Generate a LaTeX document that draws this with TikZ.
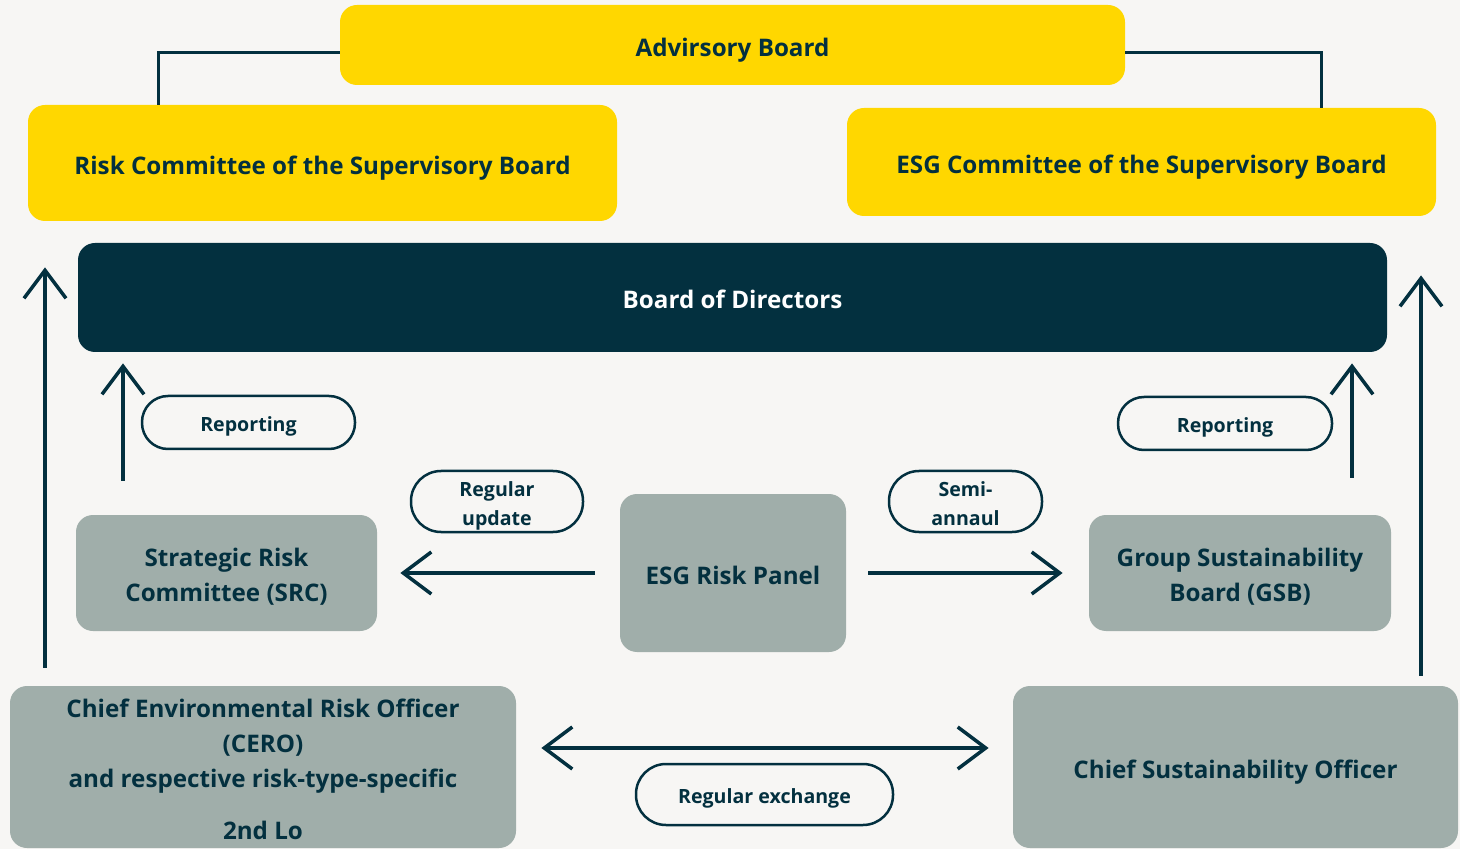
\documentclass[tikz,border=0pt]{standalone}
\usepackage{fontspec}
\setmainfont{Open Sans}
\usetikzlibrary{arrows.meta}
\definecolor{paper}{HTML}{F7F6F4}
\definecolor{gold}{HTML}{FFD700}
\definecolor{navy}{HTML}{03303F}
\definecolor{sage}{HTML}{A0AEAA}
% Centred text block whose box runs from just above the cap line of the
% first row to the baseline of the last row, so capitals sit centred in each box.
\newsavebox\lblbox
\newcommand\captext[1]{%
  \sbox\lblbox{\begin{tabular}[t]{@{}c@{}}#1\end{tabular}}%
  \raisebox{0pt}[\dimexpr0.714em+2.4pt\relax][\dimexpr\dp\lblbox-0.3\baselineskip\relax]{\usebox\lblbox}}
\begin{document}
\begin{tikzpicture}[x=0.5pt,y=-0.5pt,
  box/.style={rounded corners=8.5pt, text=navy, inner sep=0pt,
    font=\bfseries\fontsize{12.1}{17.5}\selectfont},
  yellowbox/.style={box, fill=gold},
  navybox/.style={box, fill=navy, text=white},
  sagebox/.style={box, fill=sage},
  pill/.style={draw=navy, line width=1.25pt, rounded corners=13pt,
    text=navy, inner sep=0pt, font=\bfseries\fontsize{9.8}{14.5}\selectfont},
  link/.style={draw=navy, line width=1.5pt},
  arr/.style={draw=navy, line width=1.75pt, -{Straight Barb[length=14pt,width=21pt]}},
  arrboth/.style={draw=navy, line width=1.75pt, {Straight Barb[length=14pt,width=21pt]}-{Straight Barb[length=14pt,width=21pt]}},
]
% page
\fill[paper] (0,0) rectangle (1460,849);

% governance boxes
\node[yellowbox, minimum width=392.5pt, minimum height=40pt] (adv) at (732.5,45) {\captext{Advirsory Board}};
\node[yellowbox, minimum width=294.5pt, minimum height=58pt] (rc) at (322.5,163) {\captext{Risk Committee of the Supervisory Board}};
\node[yellowbox, minimum width=294.5pt, minimum height=54pt] (esgc) at (1141.5,162) {\captext{ESG Committee of the Supervisory Board}};
\node[navybox, minimum width=654.5pt, minimum height=54.5pt] (bod) at (732.5,297.5) {\captext{Board of Directors}};

% committees and panel
\node[sagebox, minimum width=150.5pt, minimum height=58pt] (src) at (226.5,573) {\captext{Strategic Risk\\Committee (SRC)}};
\node[sagebox, minimum width=113pt, minimum height=79pt] (panel) at (733,573) {\captext{ESG Risk Panel}};
\node[sagebox, minimum width=151pt, minimum height=58pt] (gsb) at (1240,573) {\captext{Group Sustainability\\Board (GSB)}};

% officers
\node[sagebox, minimum width=253pt, minimum height=81pt] (cero) at (263,767)
  {\captext{Chief Environmental Risk Officer\\(CERO)\\and respective risk-type-specific\\[8.5pt]2nd Lo}};
\node[sagebox, minimum width=222.5pt, minimum height=81pt] (cso) at (1235.5,767) {\captext{Chief Sustainability Officer}};

% labels
\node[pill, minimum width=106.5pt, minimum height=26.5pt] (rep1) at (248.5,422.5) {\captext{Reporting}};
\node[pill, minimum width=107pt, minimum height=26.5pt] (rep2) at (1225,423.5) {\captext{Reporting}};
\node[pill, minimum width=86pt, minimum height=30.5pt, rounded corners=15pt] (upd) at (497,501.5) {\captext{Regular\\update}};
\node[pill, minimum width=76.5pt, minimum height=30.5pt, rounded corners=15pt] (semi) at (965.5,501.5) {\captext{Semi-\\annaul}};
\node[pill, minimum width=128.5pt, minimum height=30.5pt, rounded corners=15pt] (exch) at (764.5,794.5) {\captext{Regular exchange}};

% advisory board links
\draw[link] ([yshift=-4pt]adv.west) -| ([xshift=-82.25pt]rc.north);
\draw[link] ([yshift=-4pt]adv.east) -| ([xshift=89.75pt]esgc.north);

% reporting lines
\draw[arr, shorten <=9pt, shorten >=23pt] ([xshift=-109pt]cero.north) -- ([xshift=-109pt]cero.north |- rc.south);
\draw[arr, shorten <=5pt, shorten >=29.5pt] ([xshift=92.75pt]cso.north) -- ([xshift=92.75pt]cso.north |- esgc.south);
\draw[arr, shorten <=17pt, shorten >=5.5pt] ([xshift=-51.75pt]src.north) -- ([xshift=-51.75pt]src.north |- bod.south);
\draw[arr, shorten <=18.5pt, shorten >=5.5pt] ([xshift=56pt]gsb.north) -- ([xshift=56pt]gsb.north |- bod.south);

% panel outputs
\draw[arr, shorten <=12.5pt, shorten >=11.5pt] (panel.west) -- (src.east);
\draw[arr, shorten <=11pt, shorten >=13pt] (panel.east) -- (gsb.west);

% exchange between officers
\draw[arrboth, shorten <=12.5pt, shorten >=12pt] ([yshift=9.5pt]cero.east) -- ([yshift=9.5pt]cso.west);
\end{tikzpicture}
\end{document}
